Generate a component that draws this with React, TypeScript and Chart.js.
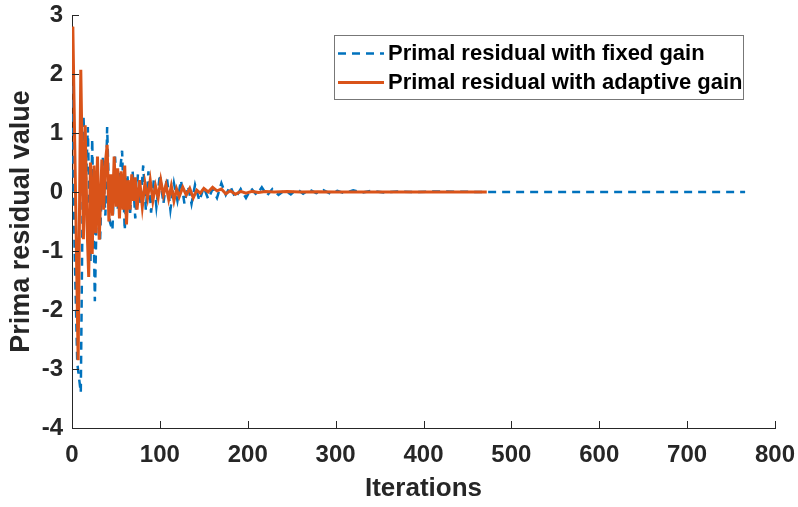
import React, { useEffect, useRef } from "react";
import { Chart, registerables } from "chart.js";

Chart.register(...registerables);

// Primal residual with fixed gain (blue dashed)
const fixedIters = [0, 3, 6, 10, 13, 16, 18, 21, 23, 26, 29, 32, 35, 38, 40, 43, 46, 49, 52, 55, 57, 60, 63, 66, 69, 72, 75, 78, 81, 84, 87, 90, 93, 96, 100, 104, 108, 112, 116, 120, 124, 128, 132, 136, 140, 145, 150, 155, 160, 165, 170, 175, 180, 186, 192, 198, 204, 210, 216, 222, 228, 235, 242, 249, 256, 263, 270, 278, 286, 294, 302, 310, 320, 330, 340, 355, 370, 390, 420, 460, 766];
const fixedValues = [1.8, -1.0, -2.9, -3.4, 1.3, 0.2, 1.1, -1.2, 0.9, -1.85, 0.3, -0.8, 0.6, -0.4, 1.1, -0.5, -0.65, 0.6, -0.3, 0.4, 0.7, -0.65, 0.3, -0.4, 0.35, -0.45, 0.3, -0.2, 0.45, -0.3, 0.35, -0.35, 0.2, -0.25, 0.3, -0.2, 0.25, -0.3, 0.15, -0.15, 0.2, -0.2, 0.1, -0.2, 0.12, -0.15, 0.08, -0.12, 0.05, -0.1, 0.15, -0.05, 0.1, -0.1, 0.05, -0.1, 0.06, -0.05, 0.08, -0.06, 0.05, -0.05, 0.03, -0.04, 0.05, -0.03, 0.04, -0.02, 0.03, -0.03, 0.02, -0.02, 0.03, -0.01, 0.02, -0.01, 0.01, 0, 0.01, 0, 0];

// Primal residual with adaptive gain (orange solid)
const adaptiveIters = [0, 1, 4, 7, 10, 13, 15, 17, 19, 21, 23, 25, 27, 29, 31, 34, 36, 38, 40, 42, 44, 46, 48, 50, 52, 54, 56, 58, 60, 62, 64, 66, 68, 70, 72, 74, 77, 80, 83, 86, 89, 92, 95, 98, 101, 104, 107, 110, 113, 116, 119, 122, 126, 130, 134, 138, 142, 146, 150, 155, 160, 165, 170, 175, 180, 186, 192, 198, 205, 212, 220, 230, 245, 260, 280, 300, 350, 400, 472];
const adaptiveValues = [2.8, 2.75, 0, -2.85, 2.07, -0.8, 1.13, -0.5, -1.44, 0.5, -1.05, 0.45, -0.7, 0.6, -0.81, 0.55, -0.3, 0.5, 0.8, -0.5, 0.3, -0.4, 0.6, -0.25, 0.4, -0.45, 0.35, -0.3, 0.45, -0.55, 0.2, -0.3, 0.3, -0.15, 0.25, -0.3, 0.2, -0.25, 0.15, -0.1, 0.2, -0.15, 0.1, -0.1, 0.2, -0.05, 0.12, -0.12, 0.1, -0.15, 0.05, -0.08, 0.08, -0.05, 0.06, -0.1, 0.03, -0.02, 0.06, 0, 0.08, 0.02, 0.05, -0.03, 0.02, -0.04, 0.01, -0.02, 0.01, -0.01, 0.01, 0, 0.01, 0, 0.005, 0, 0, 0, 0];

const xTicks = [0, 100, 200, 300, 400, 500, 600, 700, 800];
const yTicks = [-4, -3, -2, -1, 0, 1, 2, 3];

const seriesLabels = ["Primal residual with fixed gain", "Primal residual with adaptive gain"];
const xTitle = "Iterations";
const yTitle = "Prima residual value";

const BLUE = "#0072BD";
const ORANGE = "#D95319";
const AXIS = "#262626";
const FONT = "'Liberation Sans', Arial, sans-serif";

const toPoints = (xs: number[], ys: number[]) => xs.map((x, i) => ({ x, y: ys[i] }));

const innerTicks = {
  id: "innerTicks",
  afterDraw(chart: any) {
    const { ctx, chartArea } = chart;
    const xs = chart.scales.x;
    const ys = chart.scales.y;
    ctx.save();
    ctx.strokeStyle = AXIS;
    ctx.lineWidth = 1;
    ctx.beginPath();
    xs.ticks.forEach((t: any) => {
      const px = Math.round(xs.getPixelForValue(t.value)) + 0.5;
      ctx.moveTo(px, chartArea.bottom);
      ctx.lineTo(px, chartArea.bottom - 7);
    });
    ys.ticks.forEach((t: any) => {
      const py = Math.round(ys.getPixelForValue(t.value)) + 0.5;
      ctx.moveTo(chartArea.left, py);
      ctx.lineTo(chartArea.left + 7, py);
    });
    ctx.stroke();
    ctx.restore();
  },
};

const boxLegend = {
  id: "boxLegend",
  afterDraw(chart: any) {
    const { ctx } = chart;
    const left = 334, top = 35, width = 409, height = 64;
    ctx.save();
    ctx.fillStyle = "#ffffff";
    ctx.fillRect(left, top, width, height);
    ctx.strokeStyle = "#777777";
    ctx.lineWidth = 1;
    ctx.strokeRect(left + 0.5, top + 0.5, width, height);
    ctx.font = "bold 22px " + FONT;
    ctx.textBaseline = "middle";
    ctx.textAlign = "left";
    const rows = [53, 82];
    chart.data.datasets.forEach((ds: any, i: number) => {
      const y = rows[i] + 0.5;
      ctx.strokeStyle = ds.borderColor;
      ctx.lineWidth = ds.borderWidth;
      ctx.setLineDash(ds.borderDash || []);
      ctx.beginPath();
      ctx.moveTo(338, y);
      ctx.lineTo(384, y);
      ctx.stroke();
      ctx.setLineDash([]);
      ctx.fillStyle = "#000000";
      ctx.fillText(ds.label, 388, rows[i] + 1);
    });
    ctx.restore();
  },
};

export default function App() {
  const ref = useRef<HTMLCanvasElement>(null);
  useEffect(() => {
    document.body.style.margin = "0";
    const canvas = ref.current!;
    const chart = new Chart(canvas, {
      type: "line",
      data: {
        datasets: [
          {
            label: seriesLabels[0],
            data: toPoints(fixedIters, fixedValues),
            borderColor: BLUE,
            borderWidth: 2.5,
            borderDash: [8, 6],
            pointRadius: 0,
            tension: 0,
            fill: false,
            order: 1,
          },
          {
            label: seriesLabels[1],
            data: toPoints(adaptiveIters, adaptiveValues),
            borderColor: ORANGE,
            borderWidth: 3,
            pointRadius: 0,
            tension: 0,
            fill: false,
            order: 0,
          },
        ],
      },
      options: {
        responsive: false,
        animation: false,
        layout: { padding: { top: 15, right: 23, left: 0, bottom: 0 } },
        plugins: { legend: { display: false }, tooltip: { enabled: false } },
        scales: {
          x: {
            type: "linear",
            min: 0,
            max: 800,
            afterBuildTicks: (s: any) => { s.ticks = xTicks.map((v) => ({ value: v })); },
            afterFit: (s: any) => { s.height = 79; s.paddingLeft = 0; s.paddingRight = 0; },
            grid: { display: false, drawTicks: false },
            border: { display: true, color: AXIS, width: 1 },
            ticks: { color: AXIS, padding: 13, font: { family: FONT, size: 24, weight: "bold" } },
            title: { display: true, text: xTitle, color: AXIS, padding: { top: 0, bottom: 3 }, font: { family: FONT, size: 26, weight: "bold" } },
          },
          y: {
            type: "linear",
            min: -4,
            max: 3,
            afterBuildTicks: (s: any) => { s.ticks = yTicks.map((v) => ({ value: v })); },
            afterFit: (s: any) => { s.width = 72; s.paddingTop = 0; s.paddingBottom = 0; },
            grid: { display: false, drawTicks: false },
            border: { display: true, color: AXIS, width: 1 },
            ticks: { color: AXIS, padding: 9, font: { family: FONT, size: 24, weight: "bold" } },
            title: { display: true, text: yTitle, color: AXIS, padding: { top: 5, bottom: 0 }, font: { family: FONT, size: 27, weight: "bold" } },
          },
        },
      },
      plugins: [innerTicks, boxLegend],
    });
    return () => chart.destroy();
  }, []);
  return <canvas ref={ref} width={798} height={507} style={{ display: "block" }} />;
}
